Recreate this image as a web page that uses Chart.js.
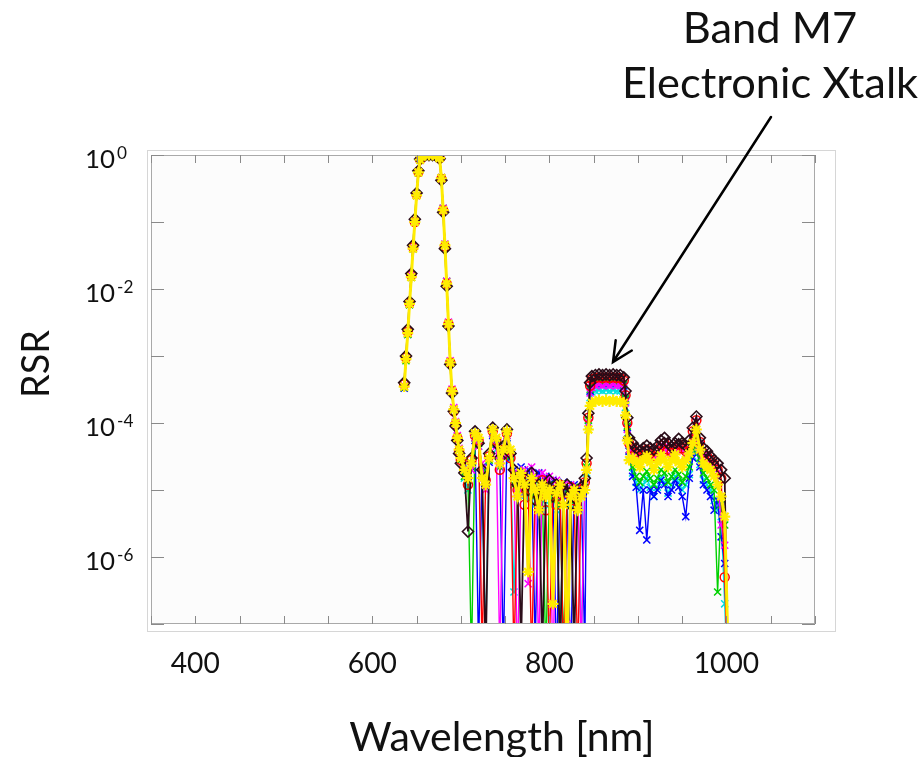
<!DOCTYPE html>
<html>
<head>
<meta charset="utf-8">
<title>RSR - Band M7 Electronic Xtalk</title>
<script src="https://cdn.jsdelivr.net/npm/chart.js@4.4.0/dist/chart.umd.min.js"></script>
<style>
  html, body { margin: 0; padding: 0; background: #fff; }
  canvas { display: block; }
</style>
</head>
<body>
<canvas id="rsrChart" width="923" height="757"></canvas>
<script>
// wavelength grid [nm], shared by every detector
const wavelength = [
  636, 638, 640, 642, 644, 646, 648, 650, 652, 654, 656, 660, 664, 668, 672, 676, 678, 680, 682, 684, 686, 688, 690, 692, 694, 696, 698, 700,
  704, 708, 712, 716, 720, 724, 728, 732, 736, 740, 744, 748, 752, 756, 760, 764, 768, 772, 776, 780, 784, 788, 792, 796, 800, 804, 808, 812, 816, 820, 824, 828, 832, 836, 840,
  842, 844, 846, 848, 852, 856, 860, 864, 868, 872, 876, 880, 884, 886, 888, 890,
  894, 898, 902, 906, 910, 914, 918, 922, 926, 930, 934, 938, 942, 946, 950, 954, 958, 962, 966, 970, 974, 978, 982, 986, 990, 994, 998, 1002
];

// relative spectral response per detector (one line per spectral region)
const rsrYellow = [
  3.5e-4, 9e-4, 2.2e-3, 6e-3, 0.015, 0.04, 0.1, 0.25, 0.55, 0.85, 0.97, 1, 1, 1, 0.98, 0.9, 0.45, 0.15, 0.045, 0.012, 3e-3, 8e-4, 3e-4, 1.6e-4, 1e-4, 6e-5, 4e-5, 3e-5,
  2e-5, 1.5e-5, 2.5e-5, 7e-5, 6e-5, 1.5e-5, 1.2e-5, 3e-5, 8e-5, 6e-5, 2.5e-5, 4e-5, 7.5e-5, 4e-5, 1.5e-5, 8e-6, 1.8e-5, 1.2e-5, 6e-7, 1.5e-5, 1e-5, 5e-6, 1.2e-5, 8e-6, 1e-5, 2e-7, 9e-6, 1.2e-5, 6e-6, 3e-8, 8e-6, 1e-5, 5e-6, 8e-6, 1e-5,
  2e-5, 8e-5, 1.8e-4, 2e-4, 2.1e-4, 2.2e-4, 2.1e-4, 2.2e-4, 2.1e-4, 2.2e-4, 2.1e-4, 2.1e-4, 2e-4, 1.3e-4, 5.5e-5, 2.8e-5,
  3e-5, 2.6e-5, 2.2e-5, 2.8e-5, 3.2e-5, 2.6e-5, 2e-5, 2.6e-5, 3.3e-5, 2.8e-5, 2.2e-5, 2.8e-5, 3.4e-5, 2.6e-5, 2.2e-5, 2.8e-5, 3.5e-5, 5e-5, 8e-5, 4e-5, 2.5e-5, 2.2e-5, 2e-5, 1.6e-5, 1.2e-5, 8e-6, 4e-6, 3e-8
];
const rsrBlack = [
  4e-4, 1e-3, 2.5e-3, 6.5e-3, 0.017, 0.045, 0.11, 0.27, 0.58, 0.87, 0.98, 1, 1, 1, 0.97, 0.88, 0.42, 0.14, 0.04, 0.011, 2.8e-3, 7.5e-4, 2.8e-4, 1.5e-4, 9e-5, 5.5e-5, 3.5e-5, 2.5e-5,
  1.8e-5, 2.4e-6, 3e-5, 7.5e-5, 5e-5, 2e-5, 3e-8, 3.5e-5, 8.5e-5, 5e-5, 3e-5, 4.5e-5, 8e-5, 3.5e-5, 2e-5, 1.2e-5, 5e-8, 1.5e-5, 1e-5, 1.8e-5, 7e-6, 1.2e-5, 4e-8, 1e-5, 1.4e-5, 8e-6, 1.2e-5, 3e-8, 1e-5, 1.2e-5, 6e-6, 5e-8, 9e-6, 1.1e-5, 1.5e-5,
  3e-5, 1.4e-4, 4e-4, 5e-4, 5.2e-4, 5.3e-4, 5.2e-4, 5.3e-4, 5.2e-4, 5.3e-4, 5.2e-4, 5.2e-4, 4.8e-4, 3e-4, 1.2e-4, 6e-5,
  5e-5, 4.2e-5, 3.8e-5, 4.2e-5, 4.6e-5, 4.2e-5, 4e-5, 4.5e-5, 5.5e-5, 6e-5, 5e-5, 4.4e-5, 5e-5, 5.8e-5, 5e-5, 4.6e-5, 5.5e-5, 8.5e-5, 1.25e-4, 6e-5, 4.2e-5, 3.8e-5, 3.2e-5, 2.8e-5, 2.5e-5, 2e-5, 1.5e-5, 1e-8
];
const rsrRed = [
  3.8e-4, 9.5e-4, 2.3e-3, 6.2e-3, 0.016, 0.042, 0.1, 0.26, 0.56, 0.86, 0.97, 1, 1, 1, 0.98, 0.89, 0.44, 0.15, 0.043, 0.012, 3e-3, 8e-4, 3e-4, 1.5e-4, 9.5e-5, 6e-5, 3.8e-5, 2.8e-5,
  2.2e-5, 1.2e-5, 2.8e-5, 6.5e-5, 5.5e-5, 4e-8, 1.4e-5, 3.2e-5, 7.5e-5, 5.5e-5, 2e-5, 4e-5, 7e-5, 3e-5, 3e-8, 1e-5, 1.6e-5, 6e-6, 1.2e-5, 3e-8, 1.2e-5, 8e-6, 1.4e-5, 5e-6, 4e-8, 1e-5, 6e-6, 1.2e-5, 2e-8, 9e-6, 1.1e-5, 7e-6, 3e-8, 1e-5, 1.3e-5,
  2.5e-5, 1.2e-4, 3.6e-4, 4.5e-4, 4.7e-4, 4.8e-4, 4.7e-4, 4.8e-4, 4.7e-4, 4.8e-4, 4.7e-4, 4.7e-4, 4.3e-4, 2.6e-4, 1e-4, 5e-5,
  4.2e-5, 3.6e-5, 3.2e-5, 3.6e-5, 4e-5, 3.5e-5, 3.2e-5, 3.8e-5, 4.6e-5, 5e-5, 4e-5, 3.6e-5, 4.2e-5, 4.8e-5, 4.2e-5, 3.8e-5, 4.6e-5, 7.5e-5, 1.1e-4, 5.2e-5, 3.6e-5, 3.2e-5, 2.8e-5, 2.4e-5, 2e-5, 1.5e-5, 5e-7, 1e-8
];
const rsrMagenta = [
  3.6e-4, 9e-4, 2.2e-3, 6e-3, 0.016, 0.042, 0.1, 0.25, 0.55, 0.85, 0.97, 1, 1, 1, 0.98, 0.9, 0.46, 0.16, 0.047, 0.013, 3.2e-3, 8.5e-4, 3.2e-4, 1.7e-4, 1.05e-4, 6.5e-5, 4.2e-5, 3e-5,
  2e-5, 2e-5, 2e-5, 6e-5, 4.5e-5, 2.5e-5, 1e-5, 3e-5, 7e-5, 4.5e-5, 3e-8, 3.5e-5, 6.5e-5, 3.5e-5, 1.8e-5, 2e-8, 1.4e-5, 2e-5, 4e-7, 2.2e-5, 1.5e-5, 3e-8, 1.8e-5, 1.2e-5, 1.6e-5, 2e-8, 1.4e-5, 8e-6, 1.2e-5, 1e-7, 1.2e-5, 9e-6, 1.1e-5, 4e-8, 1.2e-5,
  2e-5, 1e-4, 2.8e-4, 3.4e-4, 3.6e-4, 3.7e-4, 3.6e-4, 3.7e-4, 3.6e-4, 3.7e-4, 3.6e-4, 3.6e-4, 3.3e-4, 2e-4, 8e-5, 4e-5,
  3.8e-5, 3.2e-5, 2.8e-5, 3.2e-5, 3.6e-5, 3e-5, 2.8e-5, 3.3e-5, 4e-5, 4.4e-5, 3.5e-5, 3.2e-5, 3.8e-5, 4.3e-5, 3.8e-5, 3.3e-5, 4.2e-5, 7e-5, 1.05e-4, 4.8e-5, 3.3e-5, 3e-5, 2.5e-5, 2.2e-5, 1.8e-5, 3e-6, 1.5e-6, 1e-8
];
const rsrGreen = [
  3.4e-4, 8.5e-4, 2.1e-3, 5.8e-3, 0.015, 0.04, 0.1, 0.25, 0.54, 0.84, 0.96, 1, 1, 1, 0.98, 0.91, 0.46, 0.16, 0.046, 0.013, 3.1e-3, 8.2e-4, 3.1e-4, 1.6e-4, 1e-4, 6e-5, 4e-5, 2.8e-5,
  1.6e-5, 1.4e-5, 3e-8, 6e-5, 5e-5, 1.8e-5, 1.3e-5, 2.8e-5, 7e-5, 5e-5, 2.2e-5, 3.8e-5, 6.5e-5, 3.2e-5, 1.2e-5, 9e-6, 1.6e-5, 1e-5, 1.2e-5, 8e-6, 1.4e-5, 6e-6, 1e-5, 3e-8, 1.2e-5, 7e-6, 1e-5, 6e-6, 4e-8, 1e-5, 7e-6, 1.1e-5, 6e-6, 9e-6, 1.1e-5,
  2.2e-5, 1.1e-4, 3.2e-4, 4e-4, 4.2e-4, 4.3e-4, 4.2e-4, 4.3e-4, 4.2e-4, 4.3e-4, 4.2e-4, 4.2e-4, 3.8e-4, 2.3e-4, 9e-5, 4e-5,
  2.2e-5, 1.6e-5, 1.3e-5, 1.6e-5, 1.9e-5, 1.5e-5, 1.2e-5, 1.5e-5, 2e-5, 1.8e-5, 1.3e-5, 1.6e-5, 2e-5, 1.7e-5, 1.3e-5, 1.6e-5, 2.2e-5, 4e-5, 6e-5, 3e-5, 1.8e-5, 1.5e-5, 1.2e-5, 1e-5, 3e-7, 6e-6, 3e-6, 1e-8
];
const rsrBlue = [
  3.3e-4, 8.8e-4, 2.1e-3, 5.9e-3, 0.015, 0.041, 0.1, 0.25, 0.55, 0.85, 0.97, 1, 1, 1, 0.98, 0.9, 0.45, 0.15, 0.045, 0.012, 3e-3, 8e-4, 3e-4, 1.6e-4, 1e-4, 6.2e-5, 4.1e-5, 2.9e-5,
  2.4e-5, 1.6e-5, 2.2e-5, 5.5e-5, 4e-8, 2.2e-5, 1.6e-5, 2.6e-5, 6.5e-5, 4.8e-5, 2.6e-5, 3e-8, 6e-5, 3e-5, 2e-5, 1.5e-5, 2.2e-5, 1.6e-5, 2e-5, 1.4e-5, 5e-8, 1.8e-5, 1.2e-5, 1.6e-5, 1e-5, 1.4e-5, 2e-8, 1e-5, 1.3e-5, 8e-6, 2e-8, 1.2e-5, 8e-6, 1e-5, 4e-8,
  2e-5, 1e-4, 3e-4, 3.7e-4, 3.9e-4, 4e-4, 3.9e-4, 4e-4, 3.9e-4, 4e-4, 3.9e-4, 3.9e-4, 3.6e-4, 2.2e-4, 8.5e-5, 3.8e-5,
  1.6e-5, 1.1e-5, 2.5e-6, 1e-5, 1.8e-6, 1e-5, 8e-6, 1e-5, 1.4e-5, 1.2e-5, 8e-6, 1e-5, 1.4e-5, 1.1e-5, 8e-6, 4e-6, 1.5e-5, 3e-5, 4.5e-5, 2.2e-5, 1.2e-5, 1e-5, 8e-6, 5e-6, 7e-6, 2e-6, 8e-7, 1e-8
];
const rsrCyan = [
  3.5e-4, 9e-4, 2.2e-3, 6e-3, 0.015, 0.04, 0.1, 0.25, 0.55, 0.85, 0.97, 1, 1, 1, 0.98, 0.9, 0.45, 0.15, 0.045, 0.012, 3e-3, 8e-4, 3e-4, 1.6e-4, 1e-4, 6e-5, 4e-5, 3e-5,
  1.5e-5, 1e-5, 2.4e-5, 6e-5, 4.5e-5, 1.6e-5, 5e-8, 2.8e-5, 7e-5, 4e-5, 2.4e-5, 3.6e-5, 6e-5, 2.8e-5, 3e-7, 1.2e-5, 8e-6, 1.3e-5, 7e-6, 1.1e-5, 6e-6, 1e-5, 7e-6, 1.1e-5, 6e-6, 9e-6, 5e-6, 4e-8, 8e-6, 1.1e-5, 6e-6, 9e-6, 1.1e-5, 5e-8, 1e-5,
  1.8e-5, 9e-5, 2.4e-4, 2.9e-4, 3e-4, 3.1e-4, 3e-4, 3.1e-4, 3e-4, 3.1e-4, 3e-4, 3e-4, 2.8e-4, 1.7e-4, 7e-5, 3.2e-5,
  1.8e-5, 1.3e-5, 1e-5, 1.2e-5, 1.5e-5, 1.1e-5, 8e-6, 1.1e-5, 1.5e-5, 1.3e-5, 9e-6, 1.2e-5, 1.6e-5, 1.3e-5, 1e-5, 1.2e-5, 1.7e-5, 3.2e-5, 5e-5, 2.4e-5, 1.4e-5, 1.2e-5, 1e-5, 7e-6, 5e-6, 4e-6, 2e-7, 1e-8
];

// axes
const xTickValues = [350, 400, 450, 500, 550, 600, 650, 700, 750, 800, 850, 900, 950, 1000, 1050, 1100];
const xLabelValues = [400, 600, 800, 1000];
const yTickValues = [1, 1e-1, 1e-2, 1e-3, 1e-4, 1e-5, 1e-6, 1e-7];
const yLabelValues = [1, 1e-2, 1e-4, 1e-6];
const yLabelExponents = ['0', '-2', '-4', '-6'];

// first entry is drawn on top
const detectors = [
  { name: 'det 1', values: rsrYellow,  color: '#ffec00', marker: 'star',     radius: 5.5, width: 3,   pointWidth: 2.2 },
  { name: 'det 2', values: rsrBlack,   color: '#2a0c18', marker: 'rectRot',  radius: 5.5, width: 1.8, pointWidth: 1.6 },
  { name: 'det 3', values: rsrRed,     color: '#ff0000', marker: 'circle',   radius: 4.5, width: 1.4, pointWidth: 1.5 },
  { name: 'det 4', values: rsrMagenta, color: '#ff00ff', marker: 'crossRot', radius: 5,   width: 1.4, pointWidth: 1.5 },
  { name: 'det 5', values: rsrGreen,   color: '#00d000', marker: 'crossRot', radius: 5,   width: 1.4, pointWidth: 1.5 },
  { name: 'det 6', values: rsrBlue,    color: '#0000ff', marker: 'crossRot', radius: 5,   width: 1.4, pointWidth: 1.5 },
  { name: 'det 7', values: rsrCyan,    color: '#00e0e0', marker: 'crossRot', radius: 5,   width: 1.4, pointWidth: 1.5 }
];

const datasets = detectors.map(d => ({
  label: d.name,
  data: wavelength.map((w, i) => ({ x: w, y: d.values[i] })),
  borderColor: d.color,
  backgroundColor: d.color,
  borderWidth: d.width,
  pointStyle: d.marker,
  pointRadius: d.radius,
  pointBorderColor: d.color,
  pointBackgroundColor: 'rgba(0,0,0,0)',
  pointBorderWidth: d.pointWidth,
  tension: 0
}));

const FONT = 'Lato';

// font size that makes `text` span `width` pixels
function sizedFont(ctx, text, width) {
  ctx.font = '100px ' + FONT;
  const size = 100 * width / ctx.measureText(text).width;
  return size.toFixed(1) + 'px ' + FONT;
}

const axesBox = {
  id: 'axesBox',
  beforeDraw(chart) {
    const { ctx, chartArea: a } = chart;
    ctx.save();
    ctx.fillStyle = '#ffffff';
    ctx.fillRect(0, 0, chart.width, chart.height);
    // light figure frame around the axes
    ctx.strokeStyle = '#d6d6d6';
    ctx.lineWidth = 1;
    ctx.strokeRect(a.left - 3.5, a.top - 4.5, a.right - a.left + 24, a.bottom - a.top + 12);
    ctx.fillStyle = '#fcfcfc';
    ctx.fillRect(a.left, a.top, a.right - a.left, a.bottom - a.top);
    ctx.restore();
  },
  afterDatasetsDraw(chart) {
    const { ctx, chartArea: a, scales: { x, y } } = chart;
    ctx.save();
    ctx.strokeStyle = '#a9a9a9';
    ctx.lineWidth = 1;
    ctx.strokeRect(a.left + 0.5, a.top + 0.5, a.right - a.left - 1, a.bottom - a.top - 1);
    ctx.strokeStyle = '#8a8a8a';
    ctx.beginPath();
    xTickValues.forEach(v => {
      const px = Math.round(x.getPixelForValue(v)) + 0.5;
      ctx.moveTo(px, a.bottom); ctx.lineTo(px, a.bottom - 8);
      ctx.moveTo(px, a.top); ctx.lineTo(px, a.top + 8);
    });
    yTickValues.forEach(v => {
      const py = Math.round(y.getPixelForValue(v)) + 0.5;
      ctx.moveTo(a.left, py); ctx.lineTo(a.left + 13, py);
      ctx.moveTo(a.right, py); ctx.lineTo(a.right - 13, py);
    });
    ctx.stroke();
    ctx.restore();
  },
  afterDraw(chart) {
    const { ctx, scales: { x, y } } = chart;
    ctx.save();
    ctx.fillStyle = '#111111';

    // x tick labels
    ctx.font = sizedFont(ctx, '400', 49);
    ctx.textAlign = 'center';
    ctx.textBaseline = 'alphabetic';
    xLabelValues.forEach(v => ctx.fillText(String(v), x.getPixelForValue(v), 673));

    // y tick labels as 10 with a raised exponent
    const baseFont = sizedFont(ctx, '10', 30);
    const supFont = sizedFont(ctx, '0', 10);
    ctx.textAlign = 'left';
    yLabelValues.forEach((v, i) => {
      const py = y.getPixelForValue(v);
      ctx.font = baseFont;
      ctx.fillText('10', 85, py + 13);
      ctx.font = supFont;
      ctx.fillText(yLabelExponents[i], 117, py + 4);
    });

    // axis titles
    ctx.font = sizedFont(ctx, 'Wavelength [nm]', 305);
    ctx.textAlign = 'center';
    ctx.fillText('Wavelength [nm]', 502, 751);
    ctx.save();
    ctx.translate(49, 364);
    ctx.rotate(-Math.PI / 2);
    ctx.font = sizedFont(ctx, 'RSR', 68);
    ctx.fillText('RSR', 0, 0);
    ctx.restore();

    // callout for the crosstalk bump
    const calloutFont = sizedFont(ctx, 'Electronic Xtalk', 296);
    ctx.font = calloutFont;
    ctx.textAlign = 'left';
    ctx.fillText('Electronic Xtalk', 622, 98);
    ctx.textAlign = 'center';
    ctx.fillText('Band M7', 770, 43);

    const tail = { x: 771, y: 117 };
    const tip = { x: 613, y: 362 };
    const ang = Math.atan2(tip.y - tail.y, tip.x - tail.x);
    const head = 22, spread = 0.45;
    ctx.strokeStyle = '#000000';
    ctx.lineWidth = 2.5;
    ctx.lineCap = 'round';
    ctx.beginPath();
    ctx.moveTo(tail.x, tail.y);
    ctx.lineTo(tip.x, tip.y);
    ctx.moveTo(tip.x - head * Math.cos(ang - spread), tip.y - head * Math.sin(ang - spread));
    ctx.lineTo(tip.x, tip.y);
    ctx.lineTo(tip.x - head * Math.cos(ang + spread), tip.y - head * Math.sin(ang + spread));
    ctx.stroke();
    ctx.restore();
  }
};

new Chart(document.getElementById('rsrChart').getContext('2d'), {
  type: 'line',
  data: { datasets },
  options: {
    responsive: false,
    animation: false,
    devicePixelRatio: 1,
    events: [],
    layout: { padding: { left: 151, top: 155, right: 108, bottom: 133 } },
    plugins: { legend: { display: false }, tooltip: { enabled: false } },
    scales: {
      x: { type: 'linear', display: false, min: 350, max: 1100 },
      y: { type: 'logarithmic', display: false, min: 1e-7, max: 1 }
    }
  },
  plugins: [axesBox]
});
</script>
</body>
</html>
